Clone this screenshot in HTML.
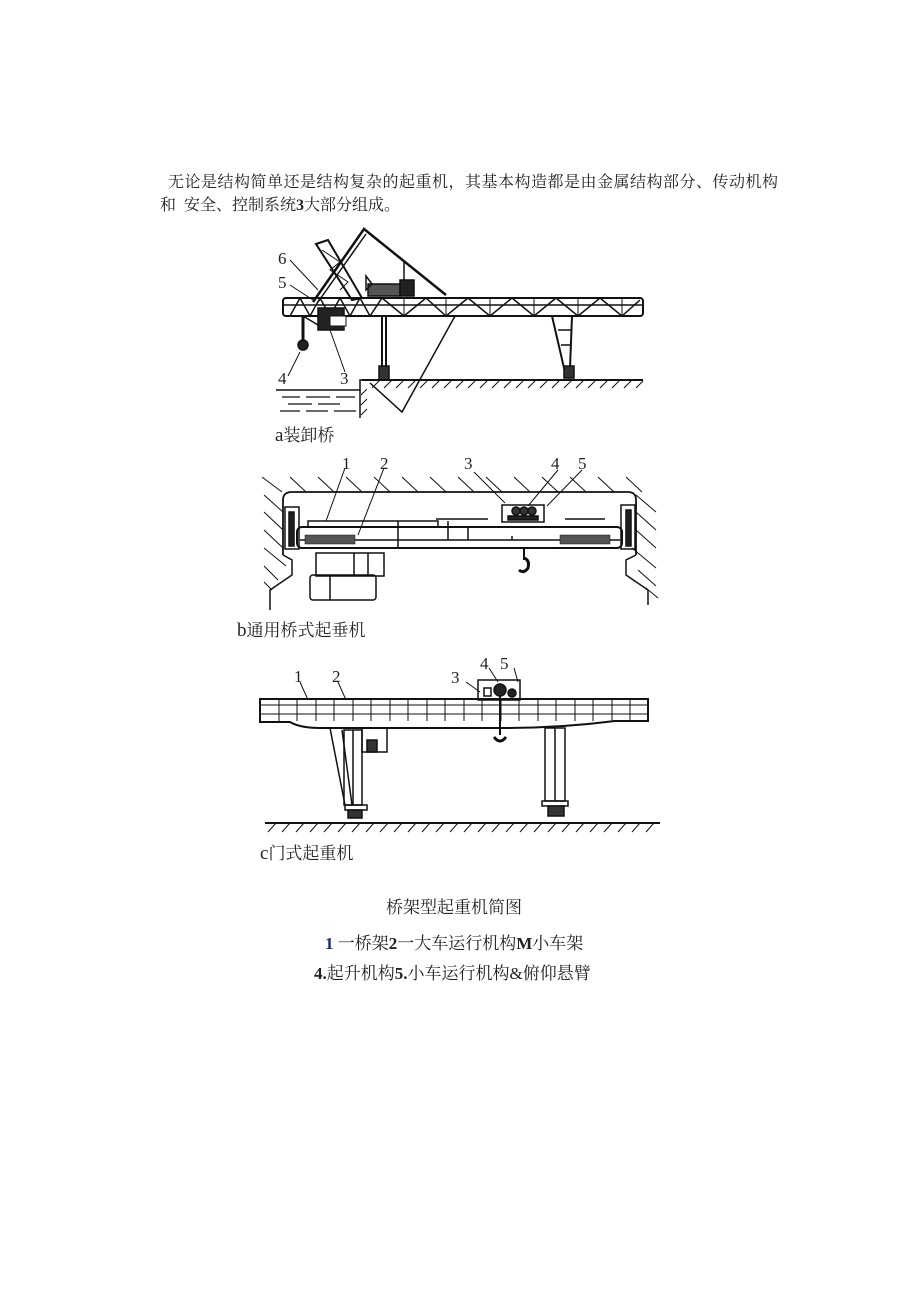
<!DOCTYPE html>
<html><head><meta charset="utf-8"><style>
html,body{margin:0;padding:0;background:#fff;}
body{width:920px;height:1302px;position:relative;overflow:hidden;font-family:"Liberation Serif","Noto Serif CJK SC","Noto Sans CJK SC",serif;color:#222;}
.t{position:absolute;white-space:nowrap;font-size:16px;}
svg{position:absolute;left:0;top:0;}
text{font-family:"Liberation Serif","Noto Serif CJK SC",serif;fill:#222;}
</style></head><body>
<div class="t" style="left:168px;top:169px;letter-spacing:0.5px;">无论是结构简单还是结构复杂的起重机，其基本构造都是由金属结构部分、传动机构</div>
<div class="t" style="left:160px;top:192px;">和&nbsp;&nbsp;安全、控制系统<b>3</b>大部分组成。</div>

<svg width="920" height="1302" viewBox="0 0 920 1302" fill="none" stroke="#111" stroke-width="1.5">
<!-- ===== Diagram a ===== -->
<g>
<rect x="283" y="298" width="360" height="18" rx="3" stroke-width="2"/>
<line x1="283" y1="305" x2="643" y2="305"/>
<polyline points="290,316 300,298 310,316 320,298 330,316 340,298 350,316 360,298 370,316 382,298 404,316 426,298 446,316 468,298 490,316 512,298 534,316 556,298 578,316 600,298 622,316 640,300"/>
<g stroke-width="1"><line x1="404" y1="298" x2="404" y2="316"/><line x1="446" y1="298" x2="446" y2="316"/><line x1="490" y1="298" x2="490" y2="316"/><line x1="534" y1="298" x2="534" y2="316"/><line x1="578" y1="298" x2="578" y2="316"/><line x1="622" y1="298" x2="622" y2="316"/></g>
<!-- A boom -->
<polyline points="313,302 364,229 446,295" stroke-width="2.5"/>
<line x1="318" y1="302" x2="366" y2="234"/>
<line x1="404" y1="262" x2="404" y2="290"/>
<!-- jib -->
<polygon points="316,244 328,240 362,298 352,300" stroke-width="2"/>
<polyline points="322,250 340,262 330,270 348,282 340,290" stroke-width="1"/>
<!-- machinery on top -->
<rect x="368" y="284" width="32" height="12" fill="#555"/>
<rect x="400" y="280" width="14" height="16" fill="#222"/>
<polygon points="366,276 372,284 366,290" />
<!-- trolley / cab -->
<rect x="318" y="308" width="26" height="22" fill="#222"/>
<rect x="330" y="316" width="16" height="10" fill="#fff" stroke-width="1"/>
<line x1="303" y1="316" x2="303" y2="340" stroke-width="3"/>
<line x1="303" y1="316" x2="318" y2="325"/>
<circle cx="303" cy="345" r="5" fill="#222"/>
<!-- legs -->
<line x1="382" y1="316" x2="382" y2="368" stroke-width="2"/>
<line x1="386" y1="316" x2="386" y2="368" stroke-width="2"/>
<rect x="379" y="366" width="10" height="14" fill="#333"/>
<polygon points="552,316 572,316 570,368 564,368" stroke-width="2"/>
<line x1="558" y1="330" x2="571" y2="330"/><line x1="561" y1="345" x2="571" y2="345"/>
<rect x="564" y="366" width="10" height="12" fill="#333"/>
<!-- ground -->
<line x1="362" y1="380" x2="643" y2="380" stroke-width="2"/>
<g stroke-width="1">
<line x1="372" y1="388" x2="380" y2="380"/><line x1="384" y1="388" x2="392" y2="380"/><line x1="396" y1="388" x2="404" y2="380"/><line x1="408" y1="388" x2="416" y2="380"/><line x1="420" y1="388" x2="428" y2="380"/><line x1="432" y1="388" x2="440" y2="380"/><line x1="444" y1="388" x2="452" y2="380"/><line x1="456" y1="388" x2="464" y2="380"/><line x1="468" y1="388" x2="476" y2="380"/><line x1="480" y1="388" x2="488" y2="380"/><line x1="492" y1="388" x2="500" y2="380"/><line x1="504" y1="388" x2="512" y2="380"/><line x1="516" y1="388" x2="524" y2="380"/><line x1="528" y1="388" x2="536" y2="380"/><line x1="540" y1="388" x2="548" y2="380"/><line x1="552" y1="388" x2="560" y2="380"/><line x1="564" y1="388" x2="572" y2="380"/><line x1="576" y1="388" x2="584" y2="380"/><line x1="588" y1="388" x2="596" y2="380"/><line x1="600" y1="388" x2="608" y2="380"/><line x1="612" y1="388" x2="620" y2="380"/><line x1="624" y1="388" x2="632" y2="380"/><line x1="636" y1="388" x2="643" y2="381"/>
<line x1="361" y1="395" x2="367" y2="389"/><line x1="361" y1="405" x2="367" y2="399"/><line x1="361" y1="415" x2="367" y2="409"/>
</g>
<polyline points="276,390 360,390 360,380 368,380"/>
<line x1="360" y1="390" x2="360" y2="418"/>
<g stroke-width="1.2"><line x1="282" y1="397" x2="300" y2="397"/><line x1="306" y1="397" x2="330" y2="397"/><line x1="336" y1="397" x2="355" y2="397"/>
<line x1="288" y1="404" x2="312" y2="404"/><line x1="318" y1="404" x2="340" y2="404"/>
<line x1="280" y1="411" x2="300" y2="411"/><line x1="306" y1="411" x2="328" y2="411"/><line x1="334" y1="411" x2="356" y2="411"/></g>
<!-- hopper triangle -->
<polyline points="370,383 402,412 455,316" stroke-width="1.5"/>
<!-- leaders -->
<g stroke-width="1"><line x1="290" y1="260" x2="318" y2="290"/><line x1="290" y1="285" x2="313" y2="300"/><line x1="288" y1="376" x2="300" y2="352"/><line x1="345" y1="372" x2="330" y2="330"/></g>
</g>
<g fill="#222" stroke="none" font-size="17">
<text x="278" y="264">6</text><text x="278" y="288">5</text><text x="278" y="384">4</text><text x="340" y="384">3</text>
<text x="275" y="441" font-size="19">a<tspan font-size="17">装卸桥</tspan></text>
</g>

<!-- ===== Diagram b ===== -->
<g>
<path d="M283,555 V500 Q283,492 292,492 H628 Q636,492 636,500 V555" stroke-width="1.8"/>
<polyline points="283,555 292,560 292,575 270,590 270,610"/>
<polyline points="636,555 626,560 626,575 648,590 648,605"/>
<g stroke-width="1">
<line x1="262" y1="477" x2="282" y2="492"/><line x1="290" y1="477" x2="306" y2="492"/><line x1="318" y1="477" x2="334" y2="492"/><line x1="346" y1="477" x2="362" y2="492"/><line x1="374" y1="477" x2="390" y2="492"/><line x1="402" y1="477" x2="418" y2="492"/><line x1="430" y1="477" x2="446" y2="492"/><line x1="458" y1="477" x2="474" y2="492"/><line x1="486" y1="477" x2="502" y2="492"/><line x1="514" y1="477" x2="530" y2="492"/><line x1="542" y1="477" x2="558" y2="492"/><line x1="570" y1="477" x2="586" y2="492"/><line x1="598" y1="477" x2="614" y2="492"/><line x1="626" y1="477" x2="642" y2="492"/>
<line x1="264" y1="495" x2="283" y2="512"/><line x1="264" y1="512" x2="283" y2="530"/><line x1="264" y1="530" x2="283" y2="548"/><line x1="264" y1="548" x2="286" y2="566"/><line x1="264" y1="566" x2="278" y2="580"/><line x1="264" y1="582" x2="272" y2="590"/>
<line x1="636" y1="495" x2="656" y2="512"/><line x1="636" y1="512" x2="656" y2="530"/><line x1="636" y1="530" x2="656" y2="548"/><line x1="632" y1="548" x2="656" y2="568"/><line x1="638" y1="570" x2="656" y2="586"/><line x1="646" y1="588" x2="658" y2="598"/>
</g>
<!-- end trucks -->
<rect x="285" y="507" width="14" height="42" stroke-width="1.5"/>
<rect x="289" y="512" width="5" height="34" fill="#222"/>
<rect x="621" y="505" width="14" height="44" stroke-width="1.5"/>
<rect x="626" y="510" width="5" height="36" fill="#222"/>
<!-- girder -->
<rect x="297" y="527" width="325" height="21" rx="5" stroke-width="2"/>
<rect x="308" y="521" width="130" height="6"/>
<line x1="300" y1="540" x2="620" y2="540"/>
<line x1="398" y1="521" x2="398" y2="548"/><line x1="448" y1="521" x2="448" y2="540"/><line x1="468" y1="527" x2="468" y2="540"/><line x1="512" y1="536" x2="512" y2="540"/>
<line x1="436" y1="519" x2="488" y2="519"/><line x1="565" y1="519" x2="605" y2="519"/>
<rect x="305" y="535" width="50" height="9" fill="#555" stroke-width="0.5"/>
<rect x="560" y="535" width="50" height="9" fill="#555" stroke-width="0.5"/>
<!-- trolley -->
<rect x="502" y="505" width="42" height="17"/>
<circle cx="516" cy="511" r="4" fill="#333"/><circle cx="524" cy="511" r="4" fill="#333"/><circle cx="532" cy="511" r="4" fill="#333"/>
<rect x="508" y="516" width="30" height="4" fill="#222"/>
<!-- hook -->
<line x1="524" y1="548" x2="524" y2="560" stroke-width="2"/>
<path d="M524,558 q6,2 4,10 q-4,6 -9,2" stroke-width="3"/>
<!-- cab -->
<rect x="316" y="553" width="68" height="23" stroke-width="1.5"/>
<rect x="310" y="575" width="66" height="25" rx="3" stroke-width="1.5"/>
<line x1="330" y1="575" x2="330" y2="600"/><line x1="354" y1="553" x2="354" y2="575"/><line x1="368" y1="553" x2="368" y2="575"/>
<!-- leaders -->
<g stroke-width="1"><line x1="345" y1="468" x2="326" y2="521"/><line x1="384" y1="468" x2="358" y2="535"/><line x1="474" y1="472" x2="505" y2="503"/><line x1="558" y1="470" x2="528" y2="506"/><line x1="582" y1="470" x2="547" y2="506"/></g>
</g>
<g fill="#222" stroke="none" font-size="17">
<text x="342" y="469">1</text><text x="380" y="469">2</text><text x="464" y="469">3</text><text x="551" y="469">4</text><text x="578" y="469">5</text>
<text x="237" y="636" font-size="19">b<tspan font-size="17">通用桥式起垂机</tspan></text>
</g>

<!-- ===== Diagram c ===== -->
<g>
<path d="M260,699 H648 V721 H615 Q560,728 505,728 H320 Q300,728 290,722 H260 Z" stroke-width="2"/>
<line x1="260" y1="705" x2="648" y2="705" stroke-width="1"/>
<line x1="260" y1="714" x2="648" y2="714" stroke-width="1"/>
<g stroke-width="1">
<line x1="279" y1="699" x2="279" y2="721"/><line x1="297" y1="699" x2="297" y2="721"/><line x1="316" y1="699" x2="316" y2="721"/><line x1="334" y1="699" x2="334" y2="721"/><line x1="353" y1="699" x2="353" y2="721"/><line x1="371" y1="699" x2="371" y2="721"/><line x1="390" y1="699" x2="390" y2="721"/><line x1="408" y1="699" x2="408" y2="721"/><line x1="427" y1="699" x2="427" y2="721"/><line x1="445" y1="699" x2="445" y2="721"/><line x1="464" y1="699" x2="464" y2="721"/><line x1="482" y1="699" x2="482" y2="721"/><line x1="501" y1="699" x2="501" y2="721"/><line x1="519" y1="699" x2="519" y2="721"/><line x1="538" y1="699" x2="538" y2="721"/><line x1="556" y1="699" x2="556" y2="721"/><line x1="575" y1="699" x2="575" y2="721"/><line x1="593" y1="699" x2="593" y2="721"/><line x1="612" y1="699" x2="612" y2="721"/><line x1="630" y1="699" x2="630" y2="721"/>
</g>
<!-- trolley -->
<rect x="478" y="680" width="42" height="20" stroke-width="1.5"/>
<rect x="484" y="688" width="7" height="8"/>
<circle cx="500" cy="690" r="6" fill="#222"/><circle cx="512" cy="693" r="4" fill="#222"/>
<line x1="500" y1="696" x2="500" y2="735" stroke-width="2"/>
<path d="M494,737 q6,8 12,0" stroke-width="3"/>
<!-- left leg -->
<polyline points="330,728 345,805"/>
<polyline points="342,730 352,805"/>
<rect x="344" y="730" width="18" height="75"/>
<line x1="353" y1="730" x2="353" y2="805"/>
<rect x="345" y="805" width="22" height="5" stroke-width="1.5"/>
<rect x="348" y="810" width="14" height="8" fill="#333"/>
<rect x="362" y="728" width="25" height="24"/><rect x="367" y="740" width="10" height="12" fill="#333"/>
<!-- right leg -->
<rect x="545" y="728" width="20" height="73"/>
<line x1="555" y1="728" x2="555" y2="801"/>
<rect x="542" y="801" width="26" height="5" stroke-width="1.5"/>
<rect x="548" y="806" width="16" height="10" fill="#333"/>
<!-- ground -->
<line x1="265" y1="823" x2="660" y2="823" stroke-width="2"/>
<g stroke-width="1">
<line x1="268" y1="832" x2="276" y2="823"/><line x1="282" y1="832" x2="290" y2="823"/><line x1="296" y1="832" x2="304" y2="823"/><line x1="310" y1="832" x2="318" y2="823"/><line x1="324" y1="832" x2="332" y2="823"/><line x1="338" y1="832" x2="346" y2="823"/><line x1="352" y1="832" x2="360" y2="823"/><line x1="366" y1="832" x2="374" y2="823"/><line x1="380" y1="832" x2="388" y2="823"/><line x1="394" y1="832" x2="402" y2="823"/><line x1="408" y1="832" x2="416" y2="823"/><line x1="422" y1="832" x2="430" y2="823"/><line x1="436" y1="832" x2="444" y2="823"/><line x1="450" y1="832" x2="458" y2="823"/><line x1="464" y1="832" x2="472" y2="823"/><line x1="478" y1="832" x2="486" y2="823"/><line x1="492" y1="832" x2="500" y2="823"/><line x1="506" y1="832" x2="514" y2="823"/><line x1="520" y1="832" x2="528" y2="823"/><line x1="534" y1="832" x2="542" y2="823"/><line x1="548" y1="832" x2="556" y2="823"/><line x1="562" y1="832" x2="570" y2="823"/><line x1="576" y1="832" x2="584" y2="823"/><line x1="590" y1="832" x2="598" y2="823"/><line x1="604" y1="832" x2="612" y2="823"/><line x1="618" y1="832" x2="626" y2="823"/><line x1="632" y1="832" x2="640" y2="823"/><line x1="646" y1="832" x2="654" y2="823"/>
</g>
<g stroke-width="1"><line x1="300" y1="682" x2="308" y2="700"/><line x1="338" y1="682" x2="346" y2="700"/><line x1="466" y1="682" x2="480" y2="692"/><line x1="489" y1="668" x2="498" y2="682"/><line x1="514" y1="668" x2="518" y2="682"/></g>
</g>
<g fill="#222" stroke="none" font-size="17">
<text x="294" y="682">1</text><text x="332" y="682">2</text><text x="451" y="683">3</text><text x="480" y="669">4</text><text x="500" y="669">5</text>
<text x="260" y="859" font-size="19">c<tspan font-size="17">门式起重机</tspan></text>
</g>
</svg>

<div class="t" style="left:386px;top:893px;font-size:17px;">桥架型起重机简图</div>
<div class="t" style="left:325px;top:929px;font-size:17px;"><b style="color:#1a2a6a">1</b> 一桥架<b>2</b>一大车运行机构<b>M</b>小车架</div>
<div class="t" style="left:314px;top:959px;font-size:17px;"><b>4.</b>起升机构<b>5.</b>小车运行机构&amp;俯仰悬臂</div>
</body></html>
